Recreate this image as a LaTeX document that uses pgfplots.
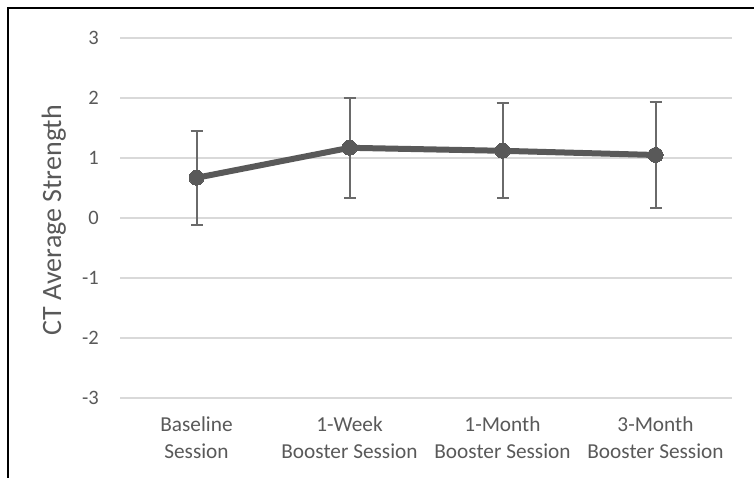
\documentclass[border=0pt]{standalone}
\usepackage{fontspec}
\setmainfont{Carlito}
\usepackage{pgfplots}
\pgfplotsset{compat=1.18}
\definecolor{txt}{HTML}{595959}
\definecolor{ln}{HTML}{595959}
\definecolor{eb}{HTML}{6A6A6A}
\definecolor{grd}{HTML}{D9D9D9}
\begin{document}
\begin{tikzpicture}
\path[use as bounding box] (0pt,0pt) rectangle (754pt,478pt);
\draw[line width=2pt,black] (8pt,0pt) -- (8pt,469.5pt) -- (754pt,469.5pt);
\begin{axis}[
  at={(120pt,80pt)}, anchor=south west,
  scale only axis, width=612pt, height=360pt,
  xmin=-0.5, xmax=3.5, ymin=-3, ymax=3,
  axis line style={draw=none},
  major tick length=0pt,
  xtick={0,1,2,3},
  xticklabels={{Baseline\\Session},{1-Week\\Booster Session},{1-Month\\Booster Session},{3-Month\\Booster Session}},
  ytick={-3,-2,-1,0,1,2,3},
  yticklabels={-3,-2,-1,0,1,2,3},
  ymajorgrids, grid style={grd, line width=1.3pt},
  yticklabel style={font=\fontsize{20.5}{24}\selectfont, text=txt, anchor=east, inner sep=0pt, xshift=-21pt},
  xticklabel style={font=\fontsize{21.3}{27}\selectfont, text=txt, align=center, anchor=north, inner sep=0pt, yshift=-19pt},
  ylabel={CT Average Strength},
  ylabel style={font=\fontsize{28}{32}\selectfont, text=txt, at={(axis description cs:-0.108,0.494)}, anchor=center},
  clip=false,
]
\addplot[ln, line width=6pt, mark=*, mark size=7.5pt, mark options={fill=ln, draw=ln, line width=0pt},
  error bars/.cd, y dir=both, y explicit,
  error bar style={eb, line width=2pt},
  error mark options={eb, line width=2pt, rotate=90, mark size=6pt}]
coordinates {
  (0,0.67) +- (0,0.78)
  (1,1.17) +- (0,0.83)
  (2,1.12) +- (0,0.79)
  (3,1.05) +- (0,0.88)
};
\end{axis}
\end{tikzpicture}
\end{document}
